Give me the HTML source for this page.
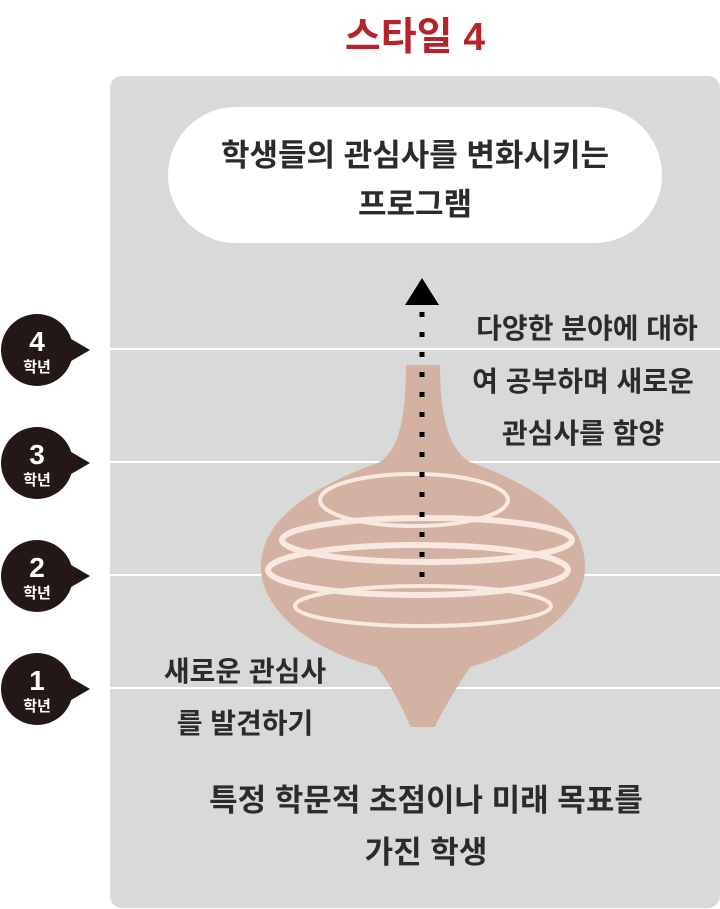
<!DOCTYPE html>
<html><head><meta charset="utf-8"><style>
body{margin:0;width:720px;height:909px;background:#fff;overflow:hidden;font-family:"Liberation Sans","Noto Sans CJK KR",sans-serif;}
</style></head><body>
<svg width="720" height="909" xmlns="http://www.w3.org/2000/svg" style="position:absolute;left:0;top:0">
<text x="415" y="50" text-anchor="middle" font-size="39" font-weight="bold" fill="#b5232b" font-family="Liberation Sans, Noto Sans CJK KR, sans-serif">스타일 4</text>
<rect x="110" y="76" width="610" height="832" rx="12" fill="#d9d9d9"/>
<g stroke="#fff" stroke-width="2">
<line x1="110" y1="349" x2="720" y2="349"/><line x1="110" y1="462" x2="720" y2="462"/>
<line x1="110" y1="575" x2="720" y2="575"/><line x1="110" y1="688" x2="720" y2="688"/>
</g>
<rect x="168" y="107" width="494" height="136" rx="68" fill="#fff"/>
<g font-family="Liberation Sans, Noto Sans CJK KR, sans-serif" font-weight="bold" fill="#2b2b2b" text-anchor="middle">
<text x="415" y="166" font-size="31">학생들의 관심사를 변화시키는</text>
<text x="415" y="215" font-size="31">프로그램</text>
<text x="587" y="338" font-size="28">다양한 분야에 대하</text>
<text x="583" y="391" font-size="28">여 공부하며 새로운</text>
<text x="583" y="443" font-size="28">관심사를 함양</text>
<text x="245" y="681" font-size="28">새로운 관심사</text>
<text x="245" y="733" font-size="28">를 발견하기</text>
<text x="426" y="811" font-size="31">특정 학문적 초점이나 미래 목표를</text>
<text x="426" y="863" font-size="31">가진 학생</text>
</g>
<path d="M406,365 L440,365 C440,420 450,450 470,462 C560,495 585,530 585,567 C585,610 530,650 470,667 C455,690 440,715 435,727 L411,727 C405,715 395,690 377,667 C310,650 261,610 261,567 C261,530 290,495 380,462 C398,450 406,420 406,365Z" fill="#d3b1a3"/>
<g fill="none" stroke="#f8e8e0">
<ellipse cx="414" cy="500" rx="94" ry="26" stroke-width="4"/>
<ellipse cx="427" cy="540" rx="145" ry="22" stroke-width="6"/>
<ellipse cx="418" cy="570" rx="150" ry="25" stroke-width="6"/>
<ellipse cx="423" cy="606" rx="128" ry="20" stroke-width="4"/>
</g>
<line x1="422" y1="312" x2="422" y2="585" stroke="#000" stroke-width="5" stroke-dasharray="5 15"/>
<polygon points="422,278 405,305 439,305" fill="#000"/>
<g font-family="Liberation Sans, Noto Sans CJK KR, sans-serif" font-weight="bold" fill="#fff" text-anchor="middle">
<g><circle cx="37" cy="350" r="36" fill="#231815"/><polygon points="66,336 90,350 66,364" fill="#231815"/><text x="37" y="351" font-size="28">4</text><text x="37" y="372" font-size="15">학년</text></g>
<g transform="translate(0,113)"><circle cx="37" cy="350" r="36" fill="#231815"/><polygon points="66,336 90,350 66,364" fill="#231815"/><text x="37" y="351" font-size="28">3</text><text x="37" y="372" font-size="15">학년</text></g>
<g transform="translate(0,226)"><circle cx="37" cy="350" r="36" fill="#231815"/><polygon points="66,336 90,350 66,364" fill="#231815"/><text x="37" y="351" font-size="28">2</text><text x="37" y="372" font-size="15">학년</text></g>
<g transform="translate(0,339)"><circle cx="37" cy="350" r="36" fill="#231815"/><polygon points="66,336 90,350 66,364" fill="#231815"/><text x="37" y="351" font-size="28">1</text><text x="37" y="372" font-size="15">학년</text></g>
</g>
</svg>
</body></html>
